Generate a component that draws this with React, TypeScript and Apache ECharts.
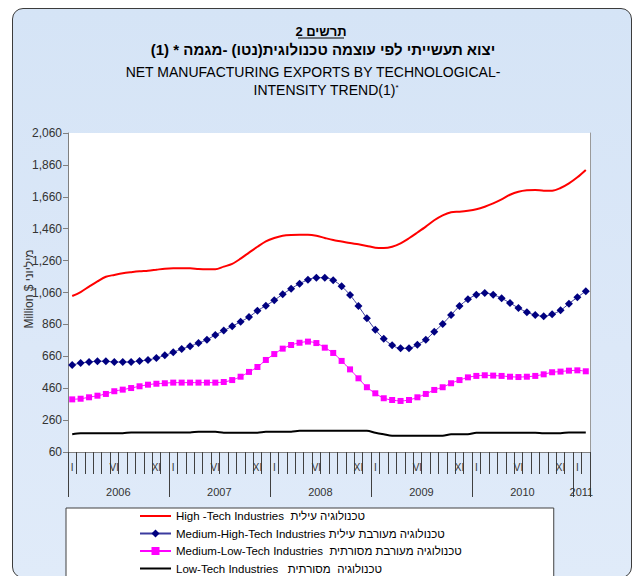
import React, { useEffect, useRef } from "react";
import * as echarts from "echarts";

const FONT = "'Liberation Sans', Arial, 'DejaVu Sans', sans-serif";

// ---- axis data ----
const years = [2006, 2007, 2008, 2009, 2010, 2011];
const monthNumerals = ["I", "II", "III", "IV", "V", "VI", "VII", "VIII", "IX", "X", "XI", "XII"];
const monthsInLastYear = 2;
const shownMonthLabels = ["I", "VI", "XI"];
const yMin = 60;
const yMax = 2060;
const yStep = 200;

// ---- series names ----
const seriesNames = [
  "High -Tech Industries  טכנולוגיה עילית",
  "Medium-High-Tech Industries טכנולוגיה מעורבת עילית",
  "Medium-Low-Tech Industries  טכנולוגיה מעורבת מסורתית",
  "Low-Tech Industries   טכנולוגיה  מסורתית",
];

// ---- series values (Million $, monthly Jan 2006 - Feb 2011) ----
const highTech = [
  1038, 1063, 1097, 1130, 1159, 1170, 1180, 1187, 1193, 1197, 1203, 1209,
  1212, 1212, 1212, 1207, 1205, 1205, 1222, 1239, 1272, 1310, 1347, 1381,
  1402, 1416, 1421, 1422, 1422, 1416, 1402, 1389, 1380, 1370, 1362, 1352,
  1341, 1339, 1347, 1368, 1400, 1436, 1473, 1513, 1544, 1563, 1567, 1573,
  1582, 1598, 1619, 1644, 1673, 1692, 1701, 1703, 1698, 1698, 1715, 1744,
  1782, 1828,
];
const mediumHigh = [
  605, 618, 624, 629, 629, 624, 624, 624, 631, 637, 649, 666,
  685, 706, 723, 743, 764, 794, 821, 848, 877, 906, 946, 977,
  1011, 1049, 1084, 1115, 1140, 1153, 1153, 1137, 1099, 1044, 975, 898,
  827, 770, 729, 710, 710, 733, 764, 814, 863, 919, 975, 1017,
  1046, 1057, 1046, 1024, 994, 963, 936, 919, 911, 923, 948, 990,
  1030, 1068,
];
const mediumLow = [
  390, 394, 403, 413, 424, 441, 451, 461, 472, 482, 488, 491,
  495, 495, 495, 495, 495, 495, 499, 511, 532, 562, 593, 637,
  674, 708, 731, 745, 752, 743, 714, 681, 631, 578, 522, 466,
  428, 397, 386, 380, 386, 403, 424, 449, 466, 491, 511, 528,
  537, 541, 539, 537, 532, 530, 532, 537, 547, 560, 564, 570,
  572, 566,
];
const lowTech = [
  171, 177, 177, 177, 177, 177, 177, 183, 183, 183, 183, 183,
  183, 183, 183, 187, 187, 187, 181, 181, 181, 181, 181, 187,
  187, 187, 187, 193, 193, 193, 193, 193, 193, 193, 193, 193,
  181, 171, 162, 162, 162, 162, 162, 162, 162, 171, 171, 171,
  181, 181, 181, 181, 181, 181, 181, 181, 177, 177, 177, 183,
  183, 183,
];

const categories: string[] = years.flatMap((y, k) =>
  monthNumerals
    .slice(0, k === years.length - 1 ? monthsInLastYear : 12)
    .map((m) => `${m} ${y}`)
);

const BAR_ICON = "path://M0,0H31V2H0Z";

export default function App() {
  const ref = useRef<HTMLDivElement>(null);

  useEffect(() => {
    if (!ref.current) return;
    const chart = echarts.init(ref.current, undefined, { renderer: "svg" });
    const lastYearStart = (years.length - 1) * 12;

    const option: any = {
      animation: false,
      backgroundColor: "transparent",
      textStyle: { fontFamily: FONT },
      grid: {
        left: 68,
        right: 52,
        top: 133,
        bottom: 124,
        show: true,
        backgroundColor: "#ffffff",
        borderWidth: 0,
      },
      xAxis: [
        {
          type: "category",
          data: categories,
          boundaryGap: true,
          position: "bottom",
          axisLine: { show: true, lineStyle: { color: "#808080", width: 1 } },
          axisTick: { show: true, interval: 0, length: 22, lineStyle: { color: "#404040" } },
          axisLabel: {
            interval: 0,
            margin: 10,
            fontSize: 10,
            color: "#333",
            fontFamily: FONT,
            formatter: (v: string) => {
              const m = v.split(" ")[0];
              return shownMonthLabels.includes(m) ? m : "";
            },
          },
          splitLine: { show: false },
        },
        {
          type: "category",
          data: categories,
          boundaryGap: true,
          position: "bottom",
          axisLine: { show: false },
          axisTick: {
            show: true,
            interval: (i: number) => i % 12 === 0,
            length: 45,
            lineStyle: { color: "#404040" },
          },
          axisLabel: {
            interval: 0,
            margin: 34,
            fontSize: 11,
            color: "#333",
            fontFamily: FONT,
            padding: [0, 0, 0, 8],
            formatter: (v: string, i: number) => {
              const [m, y] = v.split(" ");
              if (m === "VI" || i === lastYearStart) return y;
              return "";
            },
          },
          splitLine: { show: false },
        },
      ],
      yAxis: [
        {
          type: "value",
          min: yMin,
          max: yMax,
          interval: yStep,
          axisLine: { show: true, lineStyle: { color: "#808080" } },
          axisTick: { show: true, length: 5, lineStyle: { color: "#808080" } },
          axisLabel: {
            fontSize: 12,
            color: "#333",
            margin: 6,
            fontFamily: FONT,
            formatter: (v: number) => v.toLocaleString("en-US"),
          },
          splitLine: { show: false },
        },
        {
          type: "value",
          position: "right",
          min: yMin,
          max: yMax,
          interval: yStep,
          axisLine: { show: true, lineStyle: { color: "#9a9a9a" } },
          axisTick: { show: false },
          axisLabel: { show: false },
          splitLine: { show: false },
        },
      ],
      legend: {
        orient: "vertical",
        left: 66,
        top: 508,
        height: 140,
        align: "left",
        itemWidth: 31,
        itemHeight: 10,
        itemGap: 3.5,
        padding: [1, 92, 30, 73],
        backgroundColor: "#ffffff",
        borderColor: "#404040",
        borderWidth: 1,
        selectedMode: false,
        textStyle: { fontSize: 11.5, lineHeight: 14, color: "#000", fontFamily: FONT },
        data: [
          { name: seriesNames[0], icon: BAR_ICON },
          { name: seriesNames[1] },
          { name: seriesNames[2] },
          { name: seriesNames[3], icon: BAR_ICON },
        ],
      },
      series: [
        {
          name: seriesNames[0],
          type: "line",
          data: highTech,
          symbol: "none",
          smooth: 0.3,
          lineStyle: { color: "#ff0000", width: 2 },
          itemStyle: { color: "#ff0000" },
        },
        {
          name: seriesNames[1],
          type: "line",
          data: mediumHigh,
          symbol: "diamond",
          symbolSize: 8,
          showAllSymbol: true,
          smooth: 0.3,
          lineStyle: { color: "#3b3b9e", width: 1 },
          itemStyle: { color: "#000080" },
        },
        {
          name: seriesNames[2],
          type: "line",
          data: mediumLow,
          symbol: "rect",
          symbolSize: 6,
          showAllSymbol: true,
          smooth: 0.3,
          lineStyle: { color: "#ff00ff", width: 1 },
          itemStyle: { color: "#ff00ff" },
        },
        {
          name: seriesNames[3],
          type: "line",
          data: lowTech,
          symbol: "none",
          smooth: 0.3,
          lineStyle: { color: "#000000", width: 2 },
          itemStyle: { color: "#000000" },
        },
      ],
      graphic: [
        {
          type: "text",
          x: 321,
          y: 31,
          style: {
            text: "\u202Bתרשים 2\u202C",
            font: `bold 13px ${FONT}`,
            fill: "#000",
            textAlign: "center",
            textVerticalAlign: "middle",
          },
        },
        {
          type: "line",
          shape: { x1: 298, y1: 38, x2: 344, y2: 38 },
          style: { stroke: "#000", lineWidth: 1 },
        },
        {
          type: "text",
          x: 323,
          y: 49,
          style: {
            text: "\u202Bיצוא תעשייתי לפי עוצמה טכנולוגית(נטו) -מגמה * (1)\u202C",
            font: `bold 15px ${FONT}`,
            fill: "#000",
            textAlign: "center",
            textVerticalAlign: "middle",
          },
        },
        {
          type: "text",
          x: 313,
          y: 72,
          style: {
            text: "NET MANUFACTURING EXPORTS BY TECHNOLOGICAL-",
            font: `14px ${FONT}`,
            fill: "#000",
            textAlign: "center",
            textVerticalAlign: "middle",
          },
        },
        {
          type: "text",
          x: 326,
          y: 90,
          style: {
            text: "INTENSITY TREND(1){s|*}",
            font: `14px ${FONT}`,
            fill: "#000",
            textAlign: "center",
            textVerticalAlign: "middle",
            rich: { s: { fontSize: 8, verticalAlign: "top", fontFamily: FONT } },
          },
        },
        {
          type: "text",
          x: 29,
          y: 289,
          rotation: Math.PI / 2,
          style: {
            text: "Million $ מיליוני",
            font: `12px ${FONT}`,
            fill: "#333",
            textAlign: "center",
            textVerticalAlign: "middle",
          },
        },
      ],
    };

    chart.setOption(option);
    return () => chart.dispose();
  }, []);

  return (
    <>
      <div
        style={{
          position: "absolute",
          left: 12,
          top: 8,
          width: 620,
          height: 570,
          boxSizing: "border-box",
          border: "1.5px solid #3c3c3c",
          borderRadius: 11,
          background: "linear-gradient(180deg, #d5e4f6 0%, #dce8f8 60%, #e0ebf9 100%)",
        }}
      />
      <div
        ref={ref}
        style={{ position: "absolute", left: 0, top: 0, width: 642, height: 576 }}
      />
    </>
  );
}
